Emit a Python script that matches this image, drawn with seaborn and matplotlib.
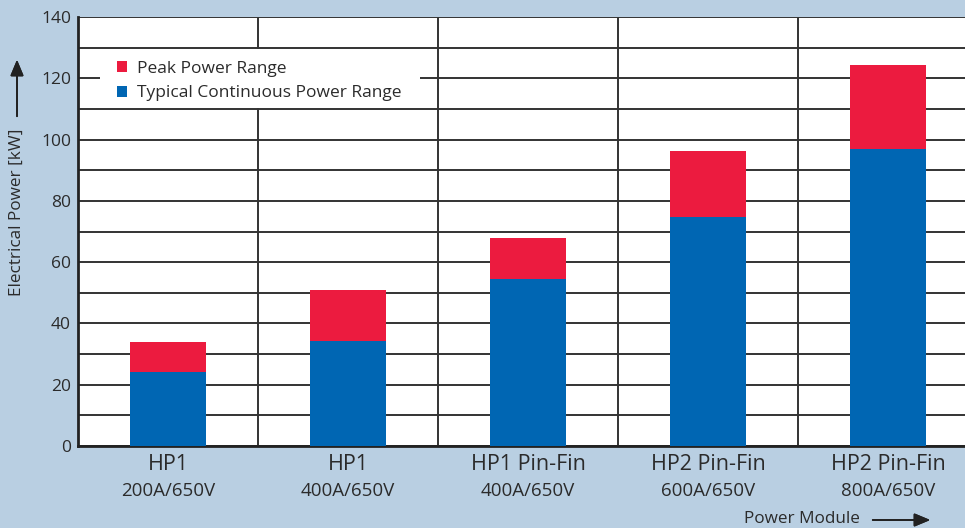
import numpy as np
import pandas as pd
import matplotlib.pyplot as plt
from matplotlib.patches import Rectangle
from matplotlib.transforms import blended_transform_factory
import seaborn as sns

# Values (kW)
modules = ['HP1', 'HP1', 'HP1 Pin-Fin', 'HP2 Pin-Fin', 'HP2 Pin-Fin']
ratings = ['200A/650V', '400A/650V', '400A/650V', '600A/650V', '800A/650V']
continuous_kw = [24.2, 34.4, 54.5, 74.8, 97.0]
peak_kw = [34.0, 50.9, 68.0, 96.3, 124.4]

BG = '#b9cfe2'
BLUE = '#0066b3'
RED = '#ec1b3f'
TXT = '#2b2b2b'

sns.set_theme(style='white')
plt.rcParams['font.family'] = ['Open Sans', 'DejaVu Sans']

df = pd.DataFrame({
    'pos': [str(i) for i in range(len(modules))],
    'continuous': continuous_kw,
    'peak': peak_kw,
})

fig = plt.figure(figsize=(9.65, 5.28), dpi=100, facecolor=BG)
ax = fig.add_axes([78 / 965, 1 - 446 / 528, 1 - 78 / 965, 429 / 528])
ax.set_facecolor('white')

# peak drawn full height, continuous on top of it
sns.barplot(data=df, x='pos', y='peak', color=RED, width=0.417,
            saturation=1, linewidth=0, ax=ax, label='Peak Power Range', zorder=3)
sns.barplot(data=df, x='pos', y='continuous', color=BLUE, width=0.417,
            saturation=1, linewidth=0, ax=ax, label='Typical Continuous Power Range', zorder=3)

ax.set_xlim(-0.5, -0.5 + 887 / 180)
ax.set_ylim(0, 140)
ax.set_yticks(np.arange(0, 141, 20))
ax.set_yticks(np.arange(10, 140, 20), minor=True)
ax.set_xticks(np.arange(0.5, len(modules) - 0.5, 1), minor=True)
ax.set_axisbelow(True)
ax.grid(True, which='both', axis='y', color='#333333', lw=1.4)
ax.grid(True, which='minor', axis='x', color='#333333', lw=1.4)
ax.tick_params(axis='both', which='both', length=0)
ax.tick_params(axis='y', labelsize=12.5, labelcolor=TXT, pad=5)
ax.tick_params(axis='x', labelsize=15.5, labelcolor=TXT, pad=5.5)
ax.set_xticks(range(len(modules)))
ax.set_xticklabels(modules)
for i, r in enumerate(ratings):
    ax.text(i, -0.106, r, transform=ax.get_xaxis_transform(), ha='center',
            va='center', fontsize=13.5, color=TXT)

for side in ['top', 'right']:
    ax.spines[side].set_visible(False)
for side in ['left', 'bottom']:
    ax.spines[side].set_color('#222222')
    ax.spines[side].set_linewidth(2)

ax.set_xlabel('')
ax.set_ylabel('')

# white box behind the legend, spanning the band between two grid lines
box = Rectangle((22 / 887, 110.4), 320 / 887, 19.2, facecolor='white', edgecolor='none',
                transform=blended_transform_factory(ax.transAxes, ax.transData), zorder=4)
ax.add_patch(box)

h, l = ax.get_legend_handles_labels()
leg = ax.legend(h, l, loc='center left', bbox_to_anchor=(39 / 887, 1 - 64 / 429),
                frameon=False, fontsize=12.5, handlelength=0.58, handleheight=0.58,
                handletextpad=0.6, labelspacing=0.5, borderpad=0,
                borderaxespad=0, labelcolor=TXT)
leg.set_zorder(5)

# axis titles with arrows
fig.text(17 / 965, 1 - 212 / 528, 'Electrical Power [kW]', rotation=90,
         ha='center', va='center', fontsize=12.3, color=TXT)
fig.add_artist(plt.annotate('', xy=(17 / 965, 1 - 57 / 528), xytext=(17 / 965, 1 - 119 / 528),
                            xycoords='figure fraction',
                            arrowprops=dict(arrowstyle='-|>,head_length=0.6,head_width=0.25',
                                            color='#222222', lw=1.3, mutation_scale=16)))
fig.text(802 / 965, 1 - 519 / 528, 'Power Module', ha='center', va='center',
         fontsize=12.3, color=TXT)
fig.add_artist(plt.annotate('', xy=(933 / 965, 1 - 520 / 528), xytext=(870 / 965, 1 - 520 / 528),
                            xycoords='figure fraction',
                            arrowprops=dict(arrowstyle='-|>,head_length=0.6,head_width=0.25',
                                            color='#222222', lw=1.3, mutation_scale=16)))

fig.savefig('out.png', dpi=100, facecolor=BG)
